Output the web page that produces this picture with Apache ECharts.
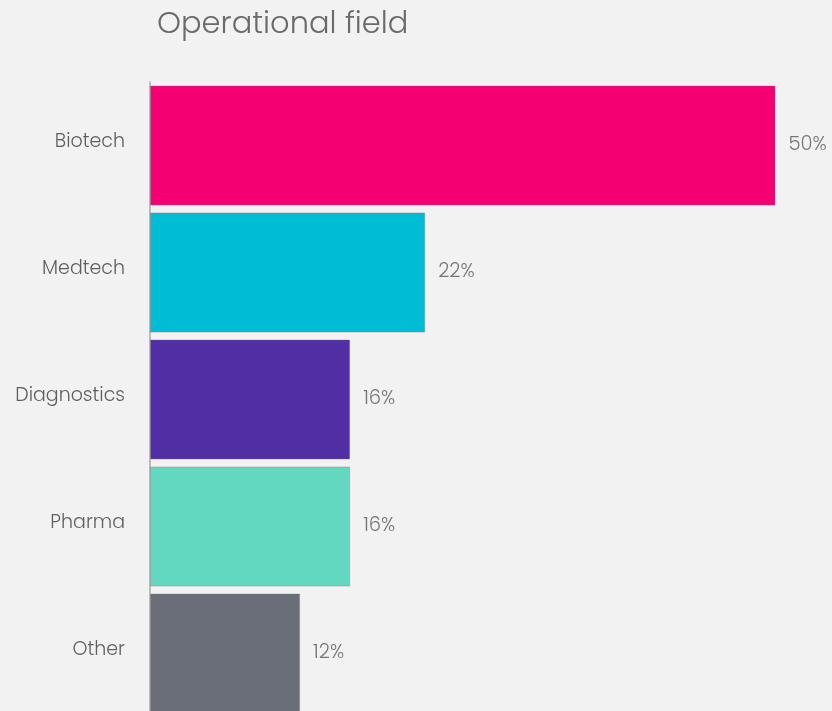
<!DOCTYPE html>
<html>
<head>
<meta charset="utf-8">
<script src="https://cdn.jsdelivr.net/npm/echarts@6/dist/echarts.min.js"></script>
<style>
  html, body { margin: 0; padding: 0; background: #f2f2f2; }
  #chart { width: 832px; height: 711px; }
</style>
</head>
<body>
<div id="chart"></div>
<script>
// Share of companies by operational field (%)
const categories = ['Biotech', 'Medtech', 'Diagnostics', 'Pharma', 'Other'];
const shares = [50, 22, 16, 16, 12];
const barColors = ['#f50072', '#00bdd5', '#512ea3', '#62d8c0', '#696e78'];

const chart = echarts.init(document.getElementById('chart'));
const fontFamily = 'Poppins, Lato, "Open Sans", sans-serif';

chart.setOption({
  backgroundColor: '#f2f2f2',
  animation: false,
  title: {
    text: 'Operational field',
    left: 152,
    top: 5,
    textStyle: {
      fontFamily: fontFamily,
      fontSize: 30.5,
      fontWeight: 300,
      color: '#6a6a6a'
    }
  },
  grid: {
    left: 150,
    top: 82,
    width: 625.5,
    height: 635,
    outerBoundsMode: 'none',
    containLabel: false
  },
  xAxis: {
    type: 'value',
    min: 0,
    max: 50,
    show: false
  },
  yAxis: {
    type: 'category',
    data: categories,
    inverse: true,
    offset: 1,
    axisLine: { show: true, lineStyle: { color: '#a8a8a8', width: 1.5 } },
    axisTick: { show: false },
    axisLabel: {
      margin: 24,
      formatter: '{name|{value}}',
      rich: {
        name: {
          padding: [0, 0, 6, 0],
          fontFamily: fontFamily,
          fontSize: 19,
          fontWeight: 300,
          color: '#5f5f5f'
        }
      }
    }
  },
  series: [{
    type: 'bar',
    data: shares.map((v, i) => ({ value: v, itemStyle: { color: barColors[i] } })),
    barCategoryGap: '5.4%',
    itemStyle: { borderColor: 'rgba(120,120,120,0.35)', borderWidth: 1 },
    label: {
      show: true,
      position: 'right',
      distance: 13,
      formatter: '{c}%',
      fontFamily: fontFamily,
      fontSize: 19.5,
      fontWeight: 300,
      color: '#777777'
    }
  }]
});
</script>
</body>
</html>
